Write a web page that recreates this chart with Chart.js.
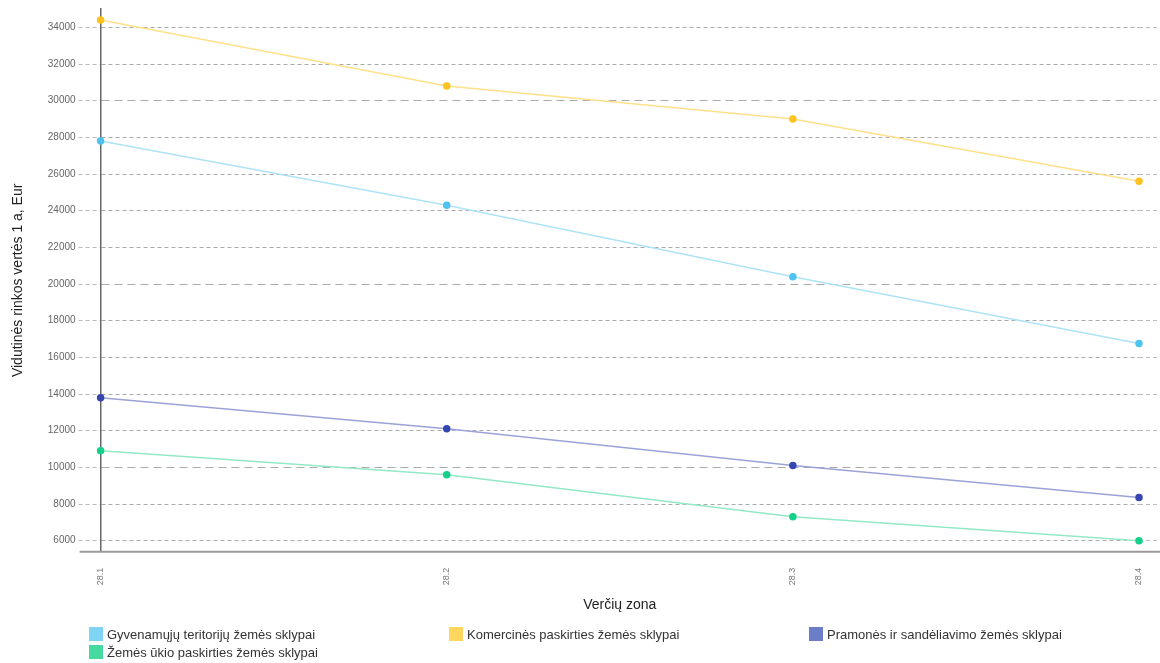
<!DOCTYPE html>
<html>
<head>
<meta charset="utf-8">
<script src="https://cdn.jsdelivr.net/npm/chart.js@4/dist/chart.umd.min.js"></script>
<style>
  html, body { margin: 0; padding: 0; background: #fff; }
  #wrap { position: relative; width: 1160px; height: 663px; }
  #legend {
    position: absolute; left: 89px; top: 626px;
    display: grid; grid-template-columns: 360px 360px 360px;
    row-gap: 2px;
    font-family: "Liberation Sans", Arial, sans-serif; font-size: 13px; color: #333;
  }
  #legend .item { display: flex; align-items: center; height: 16px; }
  #legend .box { width: 14px; height: 14px; margin-right: 4px; }
</style>
</head>
<body>
<div id="wrap">
  <canvas id="valueChart" width="1160" height="663"></canvas>
  <div id="legend"></div>
</div>
<script>
const zones = ["28.1", "28.2", "28.3", "28.4"];
const yTicks = [6000, 8000, 10000, 12000, 14000, 16000, 18000, 20000, 22000, 24000, 26000, 28000, 30000, 32000, 34000];

const seriesNames = [
  "Gyvenamųjų teritorijų žemės sklypai",
  "Komercinės paskirties žemės sklypai",
  "Pramonės ir sandėliavimo žemės sklypai",
  "Žemės ūkio paskirties žemės sklypai",
];
const residential = [27800, 24300, 20400, 16750];
const commercial = [34400, 30800, 29000, 25600];
const industrial = [13800, 12100, 10100, 8350];
const agricultural = [10900, 9600, 7300, 6000];

const lineColors = ["#aee3f6", "#ffe08a", "#9aa3d8", "#93e9c6"];
const pointColors = ["#4fc3f0", "#ffc21f", "#3546b0", "#14d08a"];
const boxColors = ["#7fd3f3", "#ffd75e", "#6d7ec9", "#47d9a2"];

const allSeries = [residential, commercial, industrial, agricultural];

const datasets = allSeries.map((values, i) => ({
  label: seriesNames[i],
  data: values,
  borderColor: lineColors[i],
  backgroundColor: pointColors[i],
  pointBackgroundColor: pointColors[i],
  pointBorderColor: pointColors[i],
  pointRadius: 3,
  borderWidth: 1.5,
  tension: 0,
  fill: false,
}));

// legend is laid out in fixed columns like the original
const legendEl = document.getElementById("legend");
seriesNames.forEach((name, i) => {
  const item = document.createElement("div");
  item.className = "item";
  item.innerHTML = '<span class="box" style="background:' + boxColors[i] + '"></span><span></span>';
  item.lastChild.textContent = name;
  legendEl.appendChild(item);
});

const dashFor = (ctx) => (ctx.tick && ctx.tick.value % 10000 === 0 ? [8, 5] : [4, 3]);
const font = "'Liberation Sans', Arial, sans-serif";

// grey base line that runs a bit past the plot on both sides
const baseLine = {
  id: "baseLine",
  afterDraw(chart) {
    const y = chart.scales.y.getPixelForValue(chart.scales.y.min);
    const c = chart.ctx;
    c.save();
    c.strokeStyle = "#999";
    c.lineWidth = 2;
    c.beginPath();
    c.moveTo(chart.scales.y.right - 21, y);
    c.lineTo(chart.width, y);
    c.stroke();
    c.restore();
  },
};

const ctx = document.getElementById("valueChart").getContext("2d");
const valueChart = new Chart(ctx, {
  type: "line",
  data: { labels: zones, datasets: datasets },
  plugins: [baseLine],
  options: {
    responsive: false,
    animation: false,
    layout: { padding: { left: 10, top: 8, right: 0, bottom: 49 } },
    plugins: { legend: { display: false }, tooltip: { enabled: false } },
    scales: {
      x: {
        offset: false,
        grid: { display: false },
        border: { display: false },
        ticks: {
          minRotation: 90, maxRotation: 90, padding: 8,
          color: "#777", font: { family: font, size: 9 },
        },
        title: {
          display: true, text: "Verčių zona", color: "#222",
          font: { family: font, size: 14 }, padding: { top: 4, bottom: 0 },
        },
      },
      y: {
        min: 5400, max: 35000,
        afterBuildTicks: (scale) => { scale.ticks = yTicks.map((v) => ({ value: v })); },
        grid: {
          color: "#aaa", lineWidth: 1, tickLength: 22,
          tickBorderDash: [4, 3], tickColor: "#bbb",
        },
        border: { display: true, color: "#666", width: 1.5, dash: dashFor },
        ticks: {
          color: "#666", padding: 3, font: { family: font, size: 10 },
          callback: (v) => String(v),
        },
        title: {
          display: true, text: "Vidutinės rinkos vertės 1 a, Eur", color: "#222",
          font: { family: font, size: 14 }, padding: { top: 0, bottom: 18 },
        },
      },
      yRight: {
        position: "right",
        min: 5400, max: 35000,
        afterBuildTicks: (scale) => { scale.ticks = yTicks.map((v) => ({ value: v })); },
        grid: {
          drawOnChartArea: false, tickLength: 21,
          tickBorderDash: [4, 3], tickColor: "#bbb", color: "#bbb",
        },
        border: { display: false },
        ticks: { display: false },
      },
    },
  },
});
</script>
</body>
</html>
